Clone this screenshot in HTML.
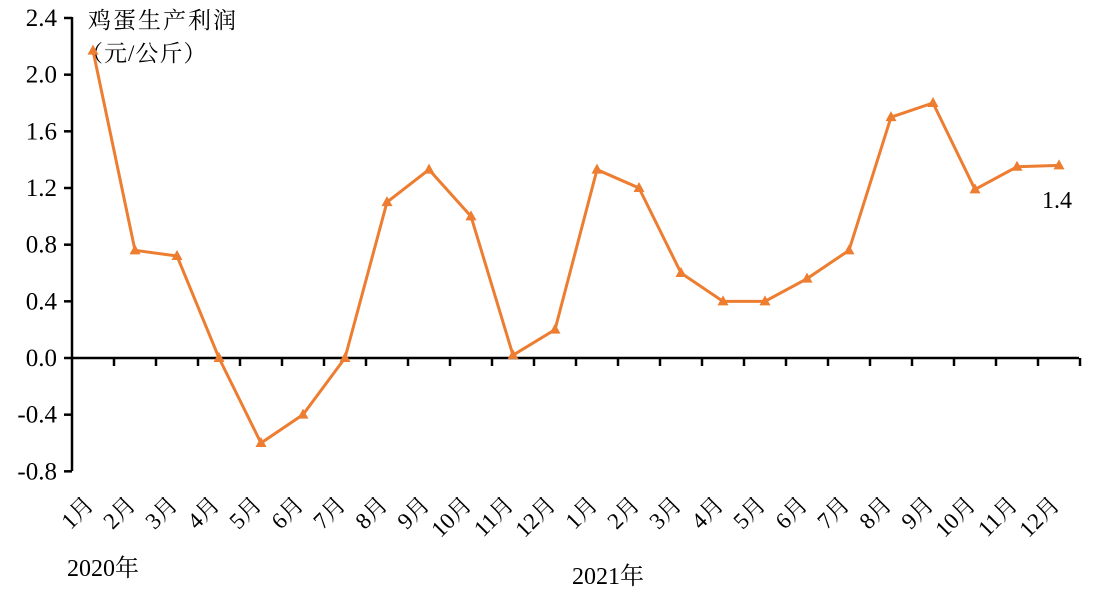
<!DOCTYPE html><html><head><meta charset="utf-8"><style>body{margin:0;background:#fff}svg{display:block}text{font-family:"Liberation Serif","Noto Serif CJK SC","Noto Sans CJK SC",serif;fill:#000}</style></head><body>
<svg width="1107" height="601" viewBox="0 0 1107 601">
<g stroke="#000" stroke-width="2.5" fill="none">
<line x1="72" y1="17" x2="72" y2="471"/>
<line x1="72" y1="358" x2="1079" y2="358"/>
</g>
<g id="yt" stroke="#000" stroke-width="2.5"></g>
<g id="xt" stroke="#000" stroke-width="2.5"></g>
<g id="yl" font-size="25" text-anchor="end"></g>
<g id="xl" font-size="23"></g>
<text x="88" y="28" font-size="23" letter-spacing="2">鸡蛋生产利润</text>
<text x="80" y="61" font-size="23" letter-spacing="1">（元/公斤）</text>
<text x="1042" y="208" font-size="24">1.4</text>
<text x="67" y="576" font-size="24">2020年</text>
<text x="572" y="584" font-size="24">2021年</text>
<polyline id="ln" fill="none" stroke="#ED7D31" stroke-width="3"/>
<g id="mk" fill="#ED7D31"></g>
</svg>
<script>
var v=[2.17,0.76,0.72,0.0,-0.6,-0.4,0.0,1.1,1.33,1.0,0.02,0.2,1.33,1.2,0.6,0.4,0.4,0.56,0.76,1.7,1.8,1.19,1.35,1.36];
var ns="http://www.w3.org/2000/svg";function el(t,a,p,tx){var e=document.createElementNS(ns,t);for(var k in a)e.setAttribute(k,a[k]);if(tx)e.textContent=tx;document.getElementById(p).appendChild(e);}
function Y(x){return 358-x*141.67;}
for(var i=0;i<=8;i++){var val=2.4-i*0.4,y=Y(val);el('line',{x1:64,y1:y,x2:72,y2:y},'yt');el('text',{x:57,y:y+8},'yl',val.toFixed(1).replace('-0.0','0.0'));}
for(var i=1;i<=24;i++){var x=72+i*42;el('line',{x1:x,y1:358,x2:x,y2:366},'xt');}
var pts=[];
for(var i=0;i<24;i++){var x=93+i*42,y=Y(v[i]);pts.push(x+','+y);el('polygon',{points:(x)+','+(y-6)+' '+(x-5.5)+','+(y+4)+' '+(x+5.5)+','+(y+4)},'mk');
var m=(i%12)+1;el('text',{x:0,y:0,'text-anchor':'end',transform:'translate('+(x+2)+',506) rotate(-45)'},'xl',m+'月');}
document.getElementById('ln').setAttribute('points',pts.join(' '));
</script>
</body></html>
